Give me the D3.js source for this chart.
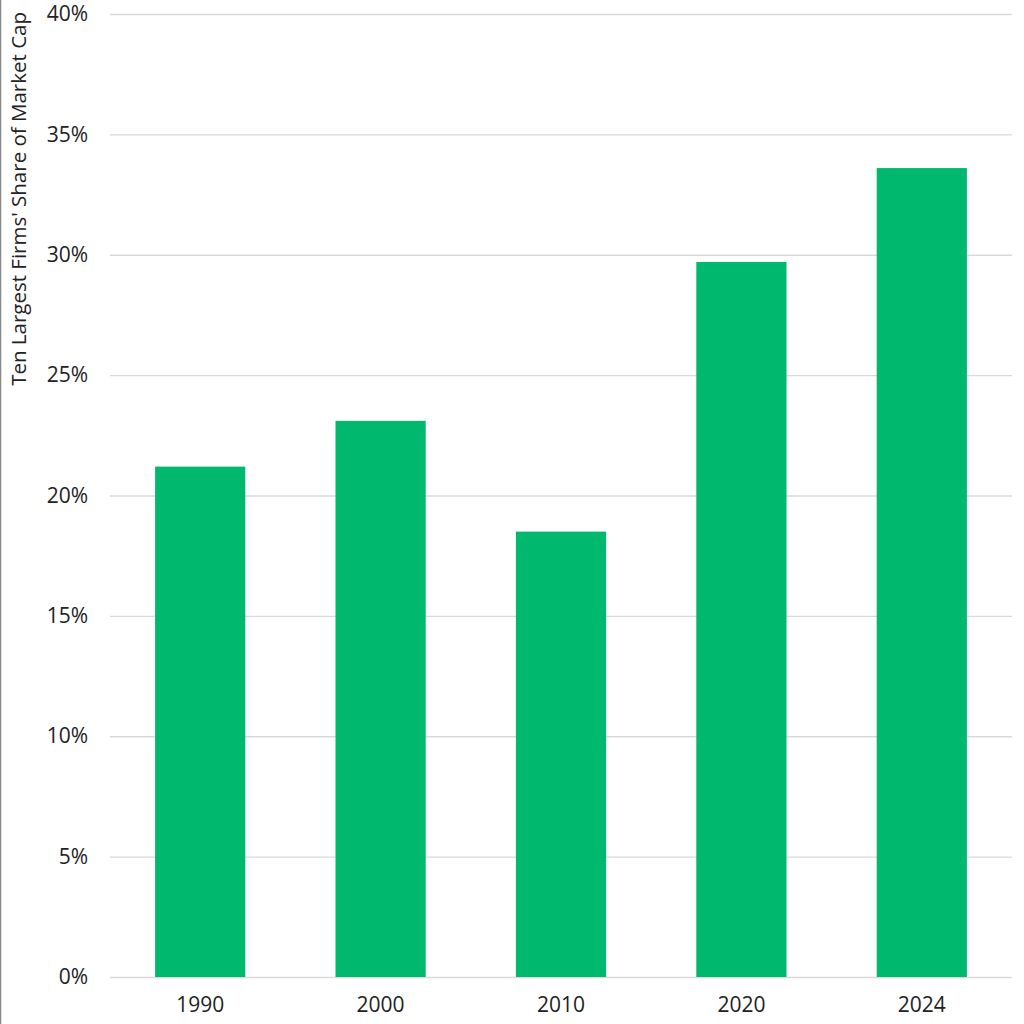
<!DOCTYPE html>
<html>
<head>
<meta charset="utf-8">
<script src="https://cdn.jsdelivr.net/npm/d3@7"></script>
<style>
  body { margin: 0; background: #fff; }
  svg { display: block; font-family: "Open Sans", sans-serif; }
</style>
</head>
<body>
<div id="chart"></div>
<script>
const years = ["1990", "2000", "2010", "2020", "2024"];
const shares = [21.2, 23.1, 18.5, 29.7, 33.6];
const yTicks = [0, 5, 10, 15, 20, 25, 30, 35, 40];

const svgWidth = 1024;
const svgHeight = 1024;

const margin = { top: 14, right: 12, bottom: 47, left: 110 };
const width = svgWidth - margin.left - margin.right;
const height = svgHeight - margin.top - margin.bottom;

const svg = d3.select("#chart")
  .append("svg")
  .attr("width", svgWidth)
  .attr("height", svgHeight);

// thin border on the left edge
svg.append("line")
  .attr("x1", 0.5).attr("x2", 0.5)
  .attr("y1", 0).attr("y2", svgHeight)
  .attr("stroke", "#888")
  .attr("stroke-width", 1.5);

const chartGroup = svg.append("g")
  .attr("transform", `translate(${margin.left}, ${margin.top})`);

const x = d3.scaleBand()
  .domain(years)
  .range([0, width])
  .paddingInner(0.5)
  .paddingOuter(0.25);

const y = d3.scaleLinear()
  .domain([0, 40])
  .range([height, 0]);

// gridlines + y labels
const yAxis = chartGroup.append("g")
  .call(d3.axisLeft(y).tickValues(yTicks).tickSize(-width).tickFormat(d => d + "%"));
yAxis.select(".domain").remove();
yAxis.selectAll(".tick line")
  .attr("stroke", "#d9d9d9")
  .attr("stroke-width", 1.3);
yAxis.selectAll(".tick text")
  .attr("x", -22)
  .attr("fill", "#222")
  .attr("font-size", 21)
  .attr("font-family", "Open Sans, sans-serif");

// bars
chartGroup.selectAll("rect.bar")
  .data(years)
  .enter()
  .append("rect")
  .attr("class", "bar")
  .attr("x", d => x(d))
  .attr("width", x.bandwidth())
  .attr("y", (d, i) => y(shares[i]))
  .attr("height", (d, i) => y(0) - y(shares[i]))
  .attr("fill", "#00b86e");

// x labels
const xAxis = chartGroup.append("g")
  .attr("transform", `translate(0, ${height})`)
  .call(d3.axisBottom(x).tickSize(0).tickPadding(20));
xAxis.select(".domain").remove();
xAxis.selectAll(".tick text")
  .attr("fill", "#222")
  .attr("font-size", 21)
  .attr("font-family", "Open Sans, sans-serif");

// y title
svg.append("text")
  .attr("transform", "rotate(-90)")
  .attr("x", -12)
  .attr("y", 26)
  .attr("text-anchor", "end")
  .attr("fill", "#222")
  .attr("font-size", 20.5)
  .text("Ten Largest Firms' Share of Market Cap");
</script>
</body>
</html>
